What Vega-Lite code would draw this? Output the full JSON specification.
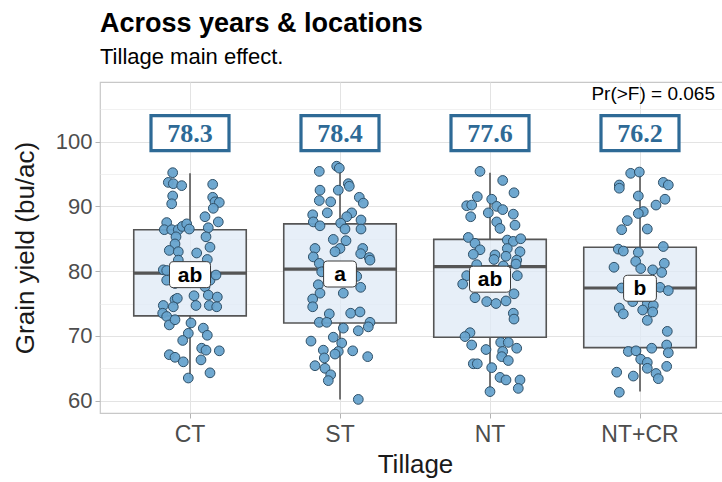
{
  "$schema": "https://vega.github.io/schema/vega-lite/v6.json",
  "autosize": "none",
  "width": 630,
  "height": 331,
  "padding": {"left": 100, "top": 82, "right": 0, "bottom": 69},
  "background": "white",
  "title": {
    "text": "Across years & locations",
    "subtitle": "Tillage main effect.",
    "anchor": "start",
    "frame": "group",
    "font": "Liberation Sans",
    "fontSize": 27,
    "fontWeight": "bold",
    "color": "#000000",
    "subtitleFont": "Liberation Sans",
    "subtitleFontSize": 22,
    "subtitleColor": "#000000",
    "subtitlePadding": 9,
    "offset": 13
  },
  "datasets": {
    "pts": [
      {"Tillage": "CT", "yield": 95.2, "jitter": -17.3},
      {"Tillage": "CT", "yield": 93.7, "jitter": -21.7},
      {"Tillage": "CT", "yield": 93.5, "jitter": -16.7},
      {"Tillage": "CT", "yield": 93.2, "jitter": -8.3},
      {"Tillage": "CT", "yield": 93.4, "jitter": 22.7},
      {"Tillage": "CT", "yield": 91.6, "jitter": -17.3},
      {"Tillage": "CT", "yield": 90.4, "jitter": -18.3},
      {"Tillage": "CT", "yield": 91.4, "jitter": 22.7},
      {"Tillage": "CT", "yield": 90.7, "jitter": 25},
      {"Tillage": "CT", "yield": 90.6, "jitter": 29.3},
      {"Tillage": "CT", "yield": 89.7, "jitter": 23.3},
      {"Tillage": "CT", "yield": 88.4, "jitter": 15},
      {"Tillage": "CT", "yield": 87.6, "jitter": 28.3},
      {"Tillage": "CT", "yield": 87.5, "jitter": -23.3},
      {"Tillage": "CT", "yield": 86.4, "jitter": -25.7},
      {"Tillage": "CT", "yield": 86.4, "jitter": -18.3},
      {"Tillage": "CT", "yield": 86.4, "jitter": -11.7},
      {"Tillage": "CT", "yield": 86.9, "jitter": -7.7},
      {"Tillage": "CT", "yield": 87.3, "jitter": -3.3},
      {"Tillage": "CT", "yield": 86.5, "jitter": -0.7},
      {"Tillage": "CT", "yield": 86.7, "jitter": 18.3},
      {"Tillage": "CT", "yield": 85.3, "jitter": 16},
      {"Tillage": "CT", "yield": 85.3, "jitter": -14},
      {"Tillage": "CT", "yield": 84.2, "jitter": -15},
      {"Tillage": "CT", "yield": 83.2, "jitter": -20.7},
      {"Tillage": "CT", "yield": 83.0, "jitter": -11.7},
      {"Tillage": "CT", "yield": 82.8, "jitter": 6.7},
      {"Tillage": "CT", "yield": 83.7, "jitter": 20},
      {"Tillage": "CT", "yield": 81.8, "jitter": 17.3},
      {"Tillage": "CT", "yield": 81.7, "jitter": -11.7},
      {"Tillage": "CT", "yield": 80.2, "jitter": -26.7},
      {"Tillage": "CT", "yield": 80.1, "jitter": -23.3},
      {"Tillage": "CT", "yield": 78.6, "jitter": -23.3},
      {"Tillage": "CT", "yield": 78.1, "jitter": -15},
      {"Tillage": "CT", "yield": 79.4, "jitter": 16.7},
      {"Tillage": "CT", "yield": 78.6, "jitter": 20},
      {"Tillage": "CT", "yield": 79.4, "jitter": 26},
      {"Tillage": "CT", "yield": 77.6, "jitter": 15},
      {"Tillage": "CT", "yield": 75.6, "jitter": -15},
      {"Tillage": "CT", "yield": 75.8, "jitter": -12.7},
      {"Tillage": "CT", "yield": 76.2, "jitter": 4},
      {"Tillage": "CT", "yield": 76.3, "jitter": 18.3},
      {"Tillage": "CT", "yield": 76.0, "jitter": 27.3},
      {"Tillage": "CT", "yield": 74.7, "jitter": 6},
      {"Tillage": "CT", "yield": 74.7, "jitter": 19.3},
      {"Tillage": "CT", "yield": 74.5, "jitter": 26.7},
      {"Tillage": "CT", "yield": 74.7, "jitter": -26.7},
      {"Tillage": "CT", "yield": 74.5, "jitter": -16.7},
      {"Tillage": "CT", "yield": 73.5, "jitter": -27.3},
      {"Tillage": "CT", "yield": 73.0, "jitter": -23.3},
      {"Tillage": "CT", "yield": 71.7, "jitter": -20.7},
      {"Tillage": "CT", "yield": 72.5, "jitter": -15},
      {"Tillage": "CT", "yield": 72.0, "jitter": 1},
      {"Tillage": "CT", "yield": 71.2, "jitter": 13.3},
      {"Tillage": "CT", "yield": 70.1, "jitter": 17.3},
      {"Tillage": "CT", "yield": 70.4, "jitter": -1.7},
      {"Tillage": "CT", "yield": 69.3, "jitter": -7.3},
      {"Tillage": "CT", "yield": 68.1, "jitter": 11.7},
      {"Tillage": "CT", "yield": 67.8, "jitter": 16},
      {"Tillage": "CT", "yield": 67.7, "jitter": 29.3},
      {"Tillage": "CT", "yield": 67.1, "jitter": -20.7},
      {"Tillage": "CT", "yield": 66.7, "jitter": -15},
      {"Tillage": "CT", "yield": 66.0, "jitter": -6.7},
      {"Tillage": "CT", "yield": 66.3, "jitter": 11},
      {"Tillage": "CT", "yield": 64.3, "jitter": 20},
      {"Tillage": "CT", "yield": 63.5, "jitter": -1.7},
      {"Tillage": "ST", "yield": 96.2, "jitter": -3.3},
      {"Tillage": "ST", "yield": 95.9, "jitter": -0.7},
      {"Tillage": "ST", "yield": 95.4, "jitter": -20.7},
      {"Tillage": "ST", "yield": 93.5, "jitter": 8.3},
      {"Tillage": "ST", "yield": 93.1, "jitter": 9.3},
      {"Tillage": "ST", "yield": 92.5, "jitter": -20},
      {"Tillage": "ST", "yield": 92.5, "jitter": -1.7},
      {"Tillage": "ST", "yield": 90.9, "jitter": -20.7},
      {"Tillage": "ST", "yield": 90.7, "jitter": -9.3},
      {"Tillage": "ST", "yield": 91.4, "jitter": 19.3},
      {"Tillage": "ST", "yield": 90.5, "jitter": 23.3},
      {"Tillage": "ST", "yield": 89.0, "jitter": -12.7},
      {"Tillage": "ST", "yield": 89.0, "jitter": 11.7},
      {"Tillage": "ST", "yield": 88.4, "jitter": 6.7},
      {"Tillage": "ST", "yield": 88.7, "jitter": -27.3},
      {"Tillage": "ST", "yield": 87.6, "jitter": -26.7},
      {"Tillage": "ST", "yield": 87.0, "jitter": -20},
      {"Tillage": "ST", "yield": 87.4, "jitter": 0.7},
      {"Tillage": "ST", "yield": 87.9, "jitter": 21},
      {"Tillage": "ST", "yield": 86.5, "jitter": 21},
      {"Tillage": "ST", "yield": 86.5, "jitter": 5},
      {"Tillage": "ST", "yield": 84.9, "jitter": -6.7},
      {"Tillage": "ST", "yield": 84.7, "jitter": 6},
      {"Tillage": "ST", "yield": 83.5, "jitter": 0},
      {"Tillage": "ST", "yield": 83.0, "jitter": -5},
      {"Tillage": "ST", "yield": 83.5, "jitter": -25},
      {"Tillage": "ST", "yield": 82.2, "jitter": -26.7},
      {"Tillage": "ST", "yield": 83.5, "jitter": 22.7},
      {"Tillage": "ST", "yield": 82.7, "jitter": 20.7},
      {"Tillage": "ST", "yield": 82.1, "jitter": 29.3},
      {"Tillage": "ST", "yield": 81.7, "jitter": 30},
      {"Tillage": "ST", "yield": 81.2, "jitter": -20.7},
      {"Tillage": "ST", "yield": 79.9, "jitter": -18.3},
      {"Tillage": "ST", "yield": 80.4, "jitter": 11.7},
      {"Tillage": "ST", "yield": 79.2, "jitter": 16.7},
      {"Tillage": "ST", "yield": 77.5, "jitter": 20.7},
      {"Tillage": "ST", "yield": 77.9, "jitter": -21.7},
      {"Tillage": "ST", "yield": 76.6, "jitter": -20},
      {"Tillage": "ST", "yield": 76.6, "jitter": 3.3},
      {"Tillage": "ST", "yield": 75.7, "jitter": -27.3},
      {"Tillage": "ST", "yield": 74.5, "jitter": -27.3},
      {"Tillage": "ST", "yield": 73.4, "jitter": -10.7},
      {"Tillage": "ST", "yield": 72.1, "jitter": -20.7},
      {"Tillage": "ST", "yield": 72.1, "jitter": -13.3},
      {"Tillage": "ST", "yield": 73.5, "jitter": 10.7},
      {"Tillage": "ST", "yield": 73.7, "jitter": 20},
      {"Tillage": "ST", "yield": 72.1, "jitter": 30},
      {"Tillage": "ST", "yield": 71.4, "jitter": 28.3},
      {"Tillage": "ST", "yield": 71.2, "jitter": 3.3},
      {"Tillage": "ST", "yield": 70.8, "jitter": 18.3},
      {"Tillage": "ST", "yield": 69.8, "jitter": -6.7},
      {"Tillage": "ST", "yield": 69.2, "jitter": -29},
      {"Tillage": "ST", "yield": 68.9, "jitter": 1.7},
      {"Tillage": "ST", "yield": 67.6, "jitter": -1.7},
      {"Tillage": "ST", "yield": 67.8, "jitter": -16.7},
      {"Tillage": "ST", "yield": 66.6, "jitter": -15.7},
      {"Tillage": "ST", "yield": 67.2, "jitter": -5},
      {"Tillage": "ST", "yield": 67.7, "jitter": 12.7},
      {"Tillage": "ST", "yield": 66.8, "jitter": 27.7},
      {"Tillage": "ST", "yield": 65.4, "jitter": -25},
      {"Tillage": "ST", "yield": 65.0, "jitter": -15},
      {"Tillage": "ST", "yield": 64.0, "jitter": -9.3},
      {"Tillage": "ST", "yield": 63.1, "jitter": -11.7},
      {"Tillage": "ST", "yield": 60.2, "jitter": 18.3},
      {"Tillage": "NT", "yield": 95.4, "jitter": -10},
      {"Tillage": "NT", "yield": 94.0, "jitter": 12.7},
      {"Tillage": "NT", "yield": 92.1, "jitter": 24},
      {"Tillage": "NT", "yield": 91.5, "jitter": -12.7},
      {"Tillage": "NT", "yield": 91.1, "jitter": 1.7},
      {"Tillage": "NT", "yield": 90.1, "jitter": -23.3},
      {"Tillage": "NT", "yield": 90.2, "jitter": -18.3},
      {"Tillage": "NT", "yield": 90.0, "jitter": 6.7},
      {"Tillage": "NT", "yield": 89.5, "jitter": 12.7},
      {"Tillage": "NT", "yield": 88.4, "jitter": -19.3},
      {"Tillage": "NT", "yield": 89.0, "jitter": -1.7},
      {"Tillage": "NT", "yield": 88.8, "jitter": 23.3},
      {"Tillage": "NT", "yield": 87.6, "jitter": 6.7},
      {"Tillage": "NT", "yield": 86.6, "jitter": 10},
      {"Tillage": "NT", "yield": 87.1, "jitter": 25},
      {"Tillage": "NT", "yield": 85.2, "jitter": -21.7},
      {"Tillage": "NT", "yield": 84.3, "jitter": -15},
      {"Tillage": "NT", "yield": 84.8, "jitter": 17.3},
      {"Tillage": "NT", "yield": 84.6, "jitter": 23.3},
      {"Tillage": "NT", "yield": 85.0, "jitter": 30.7},
      {"Tillage": "NT", "yield": 83.5, "jitter": 17.3},
      {"Tillage": "NT", "yield": 83.3, "jitter": -10},
      {"Tillage": "NT", "yield": 82.6, "jitter": -16.7},
      {"Tillage": "NT", "yield": 83.0, "jitter": 30},
      {"Tillage": "NT", "yield": 82.5, "jitter": 5},
      {"Tillage": "NT", "yield": 82.3, "jitter": 16},
      {"Tillage": "NT", "yield": 81.8, "jitter": 4},
      {"Tillage": "NT", "yield": 81.7, "jitter": 26.7},
      {"Tillage": "NT", "yield": 81.0, "jitter": -13.3},
      {"Tillage": "NT", "yield": 81.1, "jitter": 26},
      {"Tillage": "NT", "yield": 80.8, "jitter": 13.3},
      {"Tillage": "NT", "yield": 79.3, "jitter": -23.3},
      {"Tillage": "NT", "yield": 78.0, "jitter": -27.3},
      {"Tillage": "NT", "yield": 79.3, "jitter": 27.3},
      {"Tillage": "NT", "yield": 75.9, "jitter": -15},
      {"Tillage": "NT", "yield": 75.3, "jitter": -3.3},
      {"Tillage": "NT", "yield": 75.0, "jitter": 6},
      {"Tillage": "NT", "yield": 75.4, "jitter": 16},
      {"Tillage": "NT", "yield": 76.5, "jitter": 24},
      {"Tillage": "NT", "yield": 73.5, "jitter": 23.3},
      {"Tillage": "NT", "yield": 72.6, "jitter": 24},
      {"Tillage": "NT", "yield": 70.5, "jitter": -20},
      {"Tillage": "NT", "yield": 69.9, "jitter": -25},
      {"Tillage": "NT", "yield": 68.6, "jitter": -18.3},
      {"Tillage": "NT", "yield": 69.0, "jitter": 10.7},
      {"Tillage": "NT", "yield": 69.0, "jitter": 18.3},
      {"Tillage": "NT", "yield": 67.9, "jitter": -4},
      {"Tillage": "NT", "yield": 67.6, "jitter": 12.7},
      {"Tillage": "NT", "yield": 68.1, "jitter": 26.7},
      {"Tillage": "NT", "yield": 66.8, "jitter": 11.7},
      {"Tillage": "NT", "yield": 66.2, "jitter": 18.3},
      {"Tillage": "NT", "yield": 65.7, "jitter": -16.7},
      {"Tillage": "NT", "yield": 65.7, "jitter": -12.7},
      {"Tillage": "NT", "yield": 65.1, "jitter": 1.7},
      {"Tillage": "NT", "yield": 63.6, "jitter": 10},
      {"Tillage": "NT", "yield": 63.2, "jitter": 16},
      {"Tillage": "NT", "yield": 63.2, "jitter": 30},
      {"Tillage": "NT", "yield": 61.9, "jitter": 28.3},
      {"Tillage": "NT", "yield": 61.4, "jitter": 0},
      {"Tillage": "NT+CR", "yield": 95.1, "jitter": -9.3},
      {"Tillage": "NT+CR", "yield": 95.3, "jitter": -0.7},
      {"Tillage": "NT+CR", "yield": 93.3, "jitter": -20.7},
      {"Tillage": "NT+CR", "yield": 92.8, "jitter": -20.7},
      {"Tillage": "NT+CR", "yield": 93.7, "jitter": 23.3},
      {"Tillage": "NT+CR", "yield": 93.3, "jitter": 28.3},
      {"Tillage": "NT+CR", "yield": 91.6, "jitter": -1.7},
      {"Tillage": "NT+CR", "yield": 91.1, "jitter": 25},
      {"Tillage": "NT+CR", "yield": 90.2, "jitter": 16},
      {"Tillage": "NT+CR", "yield": 89.2, "jitter": 3.3},
      {"Tillage": "NT+CR", "yield": 88.9, "jitter": -1.7},
      {"Tillage": "NT+CR", "yield": 87.8, "jitter": -12.7},
      {"Tillage": "NT+CR", "yield": 86.4, "jitter": -18.3},
      {"Tillage": "NT+CR", "yield": 86.5, "jitter": 7.3},
      {"Tillage": "NT+CR", "yield": 83.4, "jitter": -21.7},
      {"Tillage": "NT+CR", "yield": 83.1, "jitter": -16.7},
      {"Tillage": "NT+CR", "yield": 82.9, "jitter": -1.7},
      {"Tillage": "NT+CR", "yield": 83.8, "jitter": 23.3},
      {"Tillage": "NT+CR", "yield": 81.5, "jitter": -4.3},
      {"Tillage": "NT+CR", "yield": 81.2, "jitter": 24.3},
      {"Tillage": "NT+CR", "yield": 80.6, "jitter": -26},
      {"Tillage": "NT+CR", "yield": 80.4, "jitter": 0.7},
      {"Tillage": "NT+CR", "yield": 80.2, "jitter": 12.7},
      {"Tillage": "NT+CR", "yield": 79.8, "jitter": 21.7},
      {"Tillage": "NT+CR", "yield": 77.4, "jitter": -18.3},
      {"Tillage": "NT+CR", "yield": 77.5, "jitter": 20},
      {"Tillage": "NT+CR", "yield": 77.0, "jitter": 28.3},
      {"Tillage": "NT+CR", "yield": 75.3, "jitter": -7.3},
      {"Tillage": "NT+CR", "yield": 75.0, "jitter": 7.3},
      {"Tillage": "NT+CR", "yield": 74.7, "jitter": 13.3},
      {"Tillage": "NT+CR", "yield": 74.3, "jitter": -20.7},
      {"Tillage": "NT+CR", "yield": 73.4, "jitter": -16.7},
      {"Tillage": "NT+CR", "yield": 74.0, "jitter": 2.7},
      {"Tillage": "NT+CR", "yield": 73.7, "jitter": 12.7},
      {"Tillage": "NT+CR", "yield": 72.4, "jitter": 7.3},
      {"Tillage": "NT+CR", "yield": 70.7, "jitter": 27.3},
      {"Tillage": "NT+CR", "yield": 68.6, "jitter": 26.7},
      {"Tillage": "NT+CR", "yield": 67.4, "jitter": 28.3},
      {"Tillage": "NT+CR", "yield": 68.1, "jitter": 11.7},
      {"Tillage": "NT+CR", "yield": 67.6, "jitter": -11.7},
      {"Tillage": "NT+CR", "yield": 67.7, "jitter": -4},
      {"Tillage": "NT+CR", "yield": 66.4, "jitter": 0.7},
      {"Tillage": "NT+CR", "yield": 65.9, "jitter": 7.3},
      {"Tillage": "NT+CR", "yield": 65.0, "jitter": 7.3},
      {"Tillage": "NT+CR", "yield": 65.3, "jitter": 26.7},
      {"Tillage": "NT+CR", "yield": 64.4, "jitter": -23.3},
      {"Tillage": "NT+CR", "yield": 63.8, "jitter": -6.7},
      {"Tillage": "NT+CR", "yield": 64.2, "jitter": 16},
      {"Tillage": "NT+CR", "yield": 63.4, "jitter": 18.3},
      {"Tillage": "NT+CR", "yield": 61.3, "jitter": -20.7}
    ],
    "stats": [
      {"Tillage": "CT", "lower": 63.5, "q1": 73.1, "median": 79.7, "q3": 86.4, "upper": 95.1, "mean": 78.3, "letter": "ab"},
      {"Tillage": "ST", "lower": 60.2, "q1": 72.0, "median": 80.3, "q3": 87.3, "upper": 96.2, "mean": 78.4, "letter": "a"},
      {"Tillage": "NT", "lower": 61.4, "q1": 69.8, "median": 80.7, "q3": 84.9, "upper": 95.2, "mean": 77.6, "letter": "ab"},
      {"Tillage": "NT+CR", "lower": 61.4, "q1": 68.2, "median": 77.4, "q3": 83.7, "upper": 95.4, "mean": 76.2, "letter": "b"}
    ],
    "notes": [
      {"Tillage": "NT+CR", "y": 107.4, "label": "Pr(>F) = 0.065"}
    ]
  },
  "resolve": {"axis": {"y": "independent"}},
  "layer": [
    {
      "mark": {"type": "rule", "color": "#ffffff", "opacity": 0},
      "data": {"values": [{"v": 60}]},
      "encoding": {
        "y": {
          "field": "v",
          "type": "quantitative",
          "scale": {"domain": [58.1, 109.2], "nice": false, "zero": false},
          "axis": {
            "orient": "left",
            "values": [65, 75, 85, 95, 105],
            "grid": true,
            "gridColor": "#eeeeee",
            "gridWidth": 0.8,
            "labels": false,
            "ticks": false,
            "domain": false,
            "title": null
          }
        }
      }
    },
    {
      "resolve": {"scale": {"xOffset": "independent"}},
      "encoding": {
        "x": {
          "field": "Tillage",
          "type": "nominal",
          "sort": ["CT", "ST", "NT", "NT+CR"],
          "scale": {"domain": ["CT", "ST", "NT", "NT+CR"], "paddingInner": 0, "paddingOuter": 0.1},
          "axis": {
            "title": "Tillage",
            "labelAngle": 0,
            "bandPosition": 0.5,
            "grid": true,
            "gridColor": "#e3e3e3",
            "gridWidth": 1,
            "domain": false,
            "ticks": true,
            "tickColor": "#b3b3b3",
            "tickSize": 5,
            "labelPadding": 5,
            "labelFont": "Liberation Sans",
            "labelFontSize": 23,
            "labelColor": "#4d4d4d",
            "titleFont": "Liberation Sans",
            "titleFontSize": 26,
            "titleFontWeight": "normal",
            "titleColor": "#1a1a1a",
            "titlePadding": 5
          }
        }
      },
      "layer": [
        {
          "data": {"name": "stats"},
          "mark": {"type": "rule", "color": "#555555", "strokeWidth": 1.6},
          "encoding": {
            "y": {
              "field": "q3",
              "type": "quantitative",
              "axis": {
                "orient": "left",
                "values": [60, 70, 80, 90, 100],
                "grid": true,
                "gridColor": "#e3e3e3",
                "gridWidth": 1,
                "domain": false,
                "ticks": true,
                "tickColor": "#b3b3b3",
                "tickSize": 5,
                "labelPadding": 3,
                "labelFont": "Liberation Sans",
                "labelFontSize": 22,
                "labelColor": "#4d4d4d",
                "title": "Grain yield (bu/ac)",
                "titleFont": "Liberation Sans",
                "titleFontSize": 26,
                "titleFontWeight": "normal",
                "titleColor": "#1a1a1a",
                "titlePadding": 17
              }
            },
            "y2": {"field": "upper"}
          }
        },
        {
          "data": {"name": "stats"},
          "mark": {"type": "rule", "color": "#555555", "strokeWidth": 1.6},
          "encoding": {
            "y": {"field": "lower", "type": "quantitative"},
            "y2": {"field": "q1"}
          }
        },
        {
          "data": {"name": "stats"},
          "mark": {"type": "bar", "width": {"band": 0.75}, "fill": "#dfeaf6", "fillOpacity": 0.75, "stroke": "#555555", "strokeWidth": 1.6},
          "encoding": {
            "y": {"field": "q1", "type": "quantitative"},
            "y2": {"field": "q3"}
          }
        },
        {
          "data": {"name": "stats"},
          "mark": {"type": "tick", "color": "#555555", "size": 112.5, "thickness": 3.2, "opacity": 1},
          "encoding": {
            "y": {"field": "median", "type": "quantitative"}
          }
        },
        {
          "data": {"name": "pts"},
          "mark": {"type": "point", "shape": "circle", "filled": true, "size": 95, "fill": "#67a3cd", "stroke": "#2f5068", "strokeWidth": 1, "opacity": 1, "fillOpacity": 0.95},
          "encoding": {
            "xOffset": {"field": "jitter", "type": "quantitative", "scale": {"domain": [-75, 75]}},
            "y": {"field": "yield", "type": "quantitative"}
          }
        },
        {
          "data": {"name": "stats"},
          "mark": {"type": "point", "shape": "M-1,-0.449L1,-0.449L1,0.449L-1,0.449Z", "size": 6084, "filled": false, "fill": "#ffffff", "fillOpacity": 1, "stroke": "#2e6a96", "strokeWidth": 3.2, "opacity": 1},
          "encoding": {
            "y": {"datum": 101.3, "type": "quantitative"}
          }
        },
        {
          "data": {"name": "stats"},
          "mark": {"type": "text", "font": "Liberation Serif", "fontSize": 26, "fontWeight": "bold", "color": "#2e6a96", "baseline": "middle", "align": "center", "dy": 1},
          "encoding": {
            "y": {"datum": 101.3, "type": "quantitative"},
            "text": {"field": "mean", "type": "quantitative", "format": ".1f"}
          }
        },
        {
          "data": {"name": "stats"},
          "mark": {"type": "point", "size": 1681, "filled": false, "fill": "#ffffff", "fillOpacity": 1, "stroke": "#3a3a3a", "strokeWidth": 1, "opacity": 1, "yOffset": -7.5},
          "encoding": {
            "y": {"field": "mean", "type": "quantitative"},
            "shape": {
              "field": "letter",
              "type": "nominal",
              "legend": null,
              "scale": {
                "domain": ["ab", "a", "b"],
                "range": [
                  "M-0.8,-0.634L0.8,-0.634Q1,-0.634 1,-0.434L1,0.434Q1,0.634 0.8,0.634L-0.8,0.634Q-1,0.634 -1,0.434L-1,-0.434Q-1,-0.634 -0.8,-0.634Z",
                  "M-0.6,-0.634L0.6,-0.634Q0.8,-0.634 0.8,-0.434L0.8,0.434Q0.8,0.634 0.6,0.634L-0.6,0.634Q-0.8,0.634 -0.8,0.434L-0.8,-0.434Q-0.8,-0.634 -0.6,-0.634Z",
                  "M-0.6,-0.634L0.6,-0.634Q0.8,-0.634 0.8,-0.434L0.8,0.434Q0.8,0.634 0.6,0.634L-0.6,0.634Q-0.8,0.634 -0.8,0.434L-0.8,-0.434Q-0.8,-0.634 -0.6,-0.634Z"
                ]
              }
            }
          }
        },
        {
          "data": {"name": "stats"},
          "mark": {"type": "text", "font": "Liberation Sans", "fontSize": 21, "fontWeight": "bold", "color": "#000000", "baseline": "middle", "align": "center", "yOffset": -7.5, "dy": 1},
          "encoding": {
            "y": {"field": "mean", "type": "quantitative"},
            "text": {"field": "letter", "type": "nominal"}
          }
        },
        {
          "data": {"name": "notes"},
          "mark": {"type": "text", "font": "Liberation Sans", "fontSize": 19, "color": "#000000", "baseline": "middle", "align": "right"},
          "encoding": {
            "x": {"field": "Tillage", "type": "nominal", "bandPosition": 1},
            "y": {"field": "y", "type": "quantitative"},
            "text": {"field": "label", "type": "nominal"}
          }
        }
      ]
    }
  ],
  "config": {
    "view": {"stroke": "#c8c8c8", "strokeWidth": 1.2},
    "axis": {"labelFont": "Liberation Sans"}
  }
}
